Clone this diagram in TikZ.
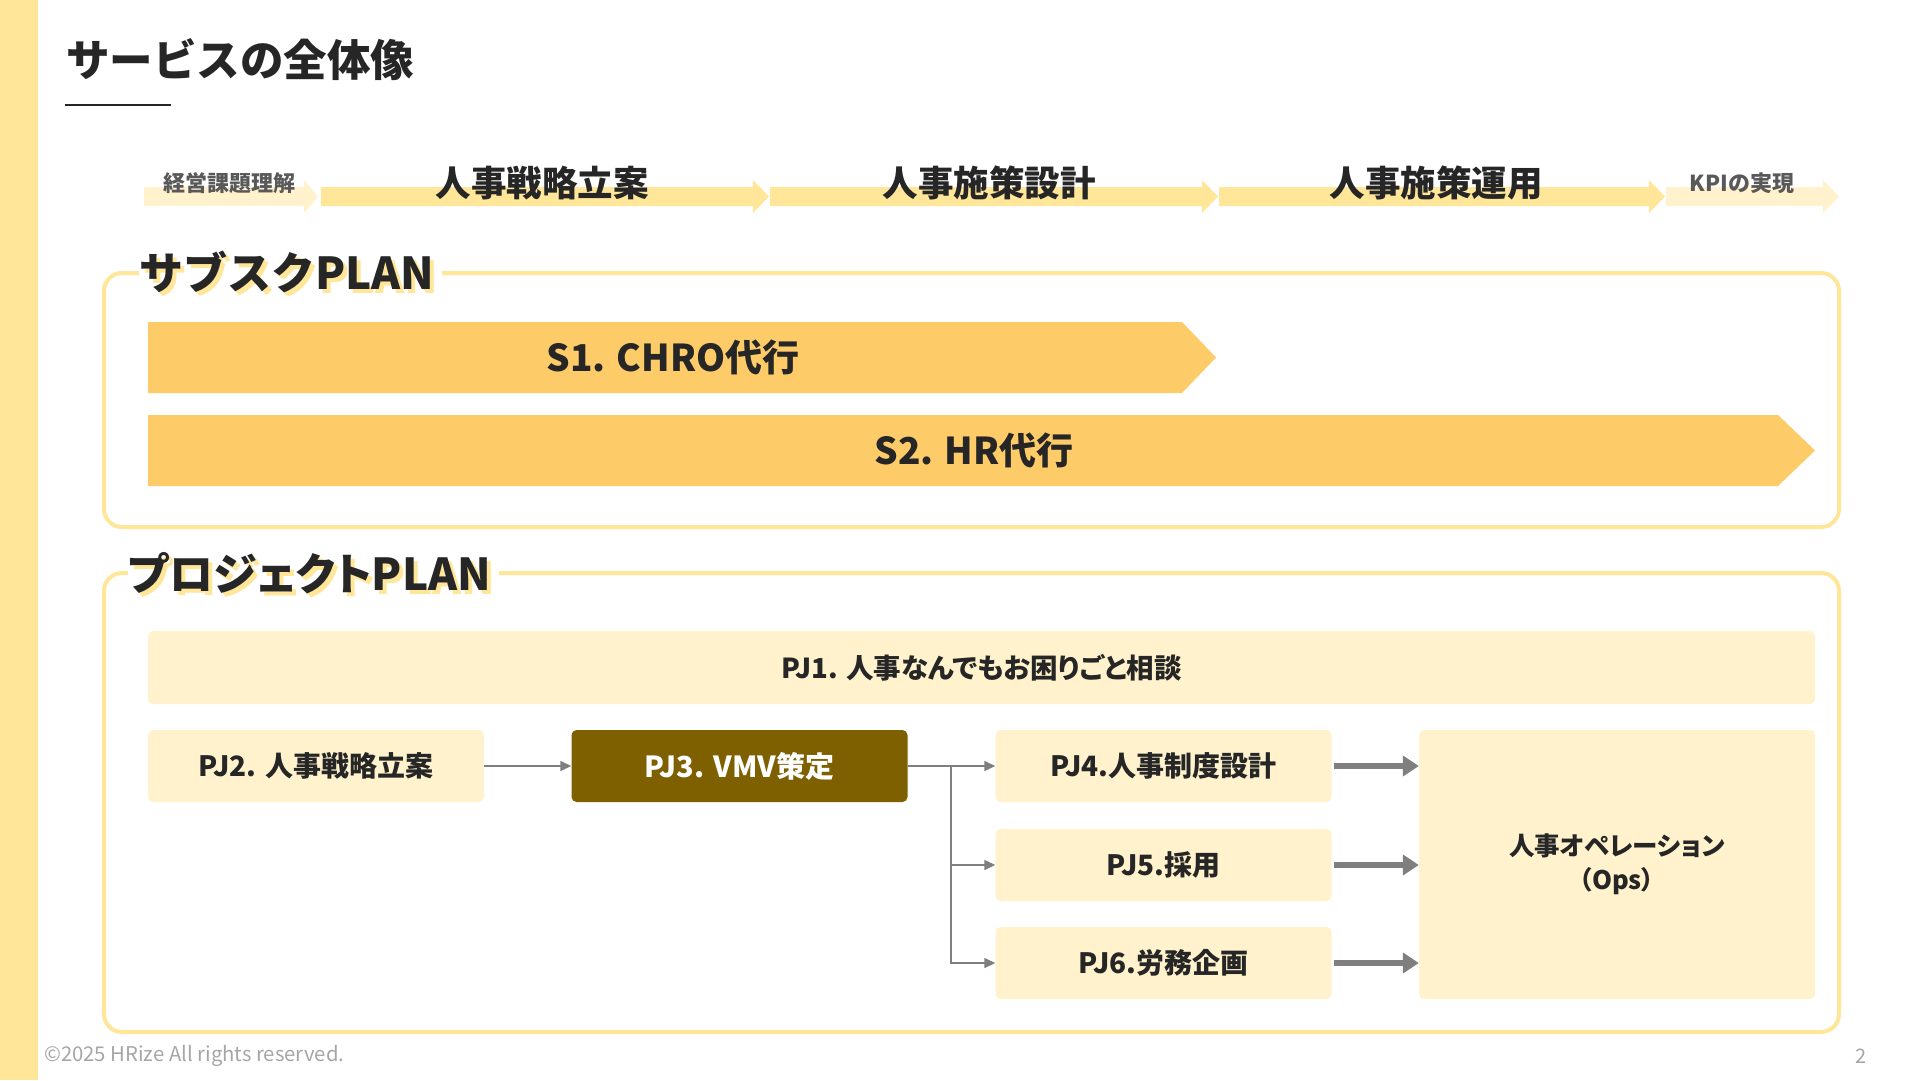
\documentclass[tikz,border=0pt]{standalone}
\usepackage{fontspec}
\setmainfont{Noto Sans CJK JP}
\newfontfamily\jpprop{Noto Sans CJK JP}[RawFeature=+palt]
\usetikzlibrary{arrows.meta}
\definecolor{stripe}{HTML}{FFE699}
\definecolor{lightband}{HTML}{FFF2CC}
\definecolor{band}{HTML}{FFE699}
\definecolor{sarrow}{HTML}{FECB69}
\definecolor{pjfill}{HTML}{FFF2CC}
\definecolor{pjdark}{HTML}{7F6000}
\definecolor{txt}{HTML}{262626}
\definecolor{subtxt}{HTML}{595959}
\definecolor{conn}{HTML}{7F7F7F}
\definecolor{footgray}{HTML}{A6A6A6}
\tikzset{
  frame/.style={draw=band, line width=4pt, rounded corners=18pt},
  pjbox/.style={fill=pjfill, rounded corners=5pt, inner sep=0pt, text=txt,
    font=\fontsize{28}{32}\selectfont\bfseries, align=center},
  darkbox/.style={pjbox, fill=pjdark, text=white},
  thinarrow/.style={draw=conn, line width=1.5pt, -{Triangle[length=11pt,width=10pt]}},
  thinline/.style={draw=conn, line width=1.5pt},
  thickarrow/.style={draw=conn, line width=6pt, -{Triangle[length=16pt,width=20pt]}, shorten <=2pt},
  ptitle/.style={anchor=west, inner sep=0pt, text=txt, font=\fontsize{44}{50}\selectfont\bfseries},
  pshadow/.style={anchor=west, inner xsep=4pt, inner ysep=0pt, fill=white, text=band, font=\fontsize{44}{50}\selectfont\bfseries},
  proctext/.style={text=txt, font=\fontsize{35.5}{40}\selectfont\bfseries},
  procsmall/.style={text=subtxt, font=\fontsize{22}{24}\selectfont\bfseries},
  stext/.style={text=txt, font=\fontsize{37}{42}\selectfont\bfseries}
}
\begin{document}
\begin{tikzpicture}[x=1pt,y=-1pt]
\useasboundingbox (0,0) rectangle (1920,1080);
\fill[white] (0,0) rectangle (1920,1080);
\fill[stripe] (0,0) rectangle (38,1080);

% title
\node[anchor=west, inner sep=0pt, text=txt, font=\fontsize{43.5}{50}\selectfont\bfseries] (title) at (66,60) {サービスの全体像};
\coordinate (ulA) at (65,105);
\coordinate (ulB) at (171,105);
\draw[txt, line width=2pt] (ulA) -- (ulB);

% process row
\fill[lightband] (144,187) -- (304,187) -- (304,180) -- (318,196.5) -- (304,213) -- (304,206) -- (144,206) -- cycle;
\fill[band] (321,187) -- (753,187) -- (753,180) -- (769,196.5) -- (753,213) -- (753,206) -- (321,206) -- cycle;
\fill[band] (770,187) -- (1202,187) -- (1202,180) -- (1218,196.5) -- (1202,213) -- (1202,206) -- (770,206) -- cycle;
\fill[band] (1219,187) -- (1649,187) -- (1649,180) -- (1665,196.5) -- (1649,213) -- (1649,206) -- (1219,206) -- cycle;
\fill[lightband] (1666,187) -- (1823,187) -- (1823,180) -- (1839,196.5) -- (1823,213) -- (1823,206) -- (1666,206) -- cycle;
\node[procsmall] (p1) at (229,183) {経営課題理解};
\node[proctext] (p2) at (542,183) {人事戦略立案};
\node[proctext] (p3) at (989,183) {人事施策設計};
\node[proctext] (p4) at (1436,183) {人事施策運用};
\node[procsmall] (p5) at (1742,183) {KPIの実現};

% subscription plan
\draw[frame] (104,273) rectangle (1839,527);
\node[pshadow] (subsh) at (139,276) {サブスクPLAN};
\node[ptitle] (subt) at (139,272) {サブスクPLAN};
\fill[sarrow] (148,322) -- (1182,322) -- (1216,357.5) -- (1182,393) -- (148,393) -- cycle;
\node[stext] (s1) at (673,357) {S1. CHRO代行};
\fill[sarrow] (148,415) -- (1778,415) -- (1815,450.5) -- (1778,486) -- (148,486) -- cycle;
\node[stext] (s2) at (974,450) {S2. HR代行};

% project plan
\draw[frame] (104,573) rectangle (1839,1032);
\node[pshadow, font=\fontsize{44}{50}\selectfont\bfseries\jpprop] (prjsh) at (128,577) {プロジェクトPLAN};
\node[ptitle, font=\fontsize{44}{50}\selectfont\bfseries\jpprop] (prjt) at (128,573) {プロジェクトPLAN};

\node[pjbox, minimum width=1667pt, minimum height=73pt, font=\fontsize{27.5}{32}\selectfont\bfseries\jpprop] (pj1) at (981.5,667.5) {PJ1. 人事なんでもお困りごと相談};
\node[pjbox, minimum width=336pt, minimum height=72pt] (pj2) at (316,766) {PJ2. 人事戦略立案};
\node[darkbox, minimum width=336pt, minimum height=72pt, font=\fontsize{29}{32}\selectfont\bfseries] (pj3) at (739.5,766) {PJ3. VMV策定};
\node[pjbox, minimum width=336pt, minimum height=72pt] (pj4) at (1163.5,766) {PJ4.人事制度設計};
\node[pjbox, minimum width=336pt, minimum height=72pt] (pj5) at (1163.5,865) {PJ5.採用};
\node[pjbox, minimum width=336pt, minimum height=72pt] (pj6) at (1163.5,963) {PJ6.労務企画};
\node[pjbox, minimum width=396pt, minimum height=269pt, font=\fontsize{25.5}{34}\selectfont\bfseries\jpprop] (ops) at (1617,864.5) {人事オペレーション\\（Ops）};

\draw[thinarrow] (pj2.east) -- (pj3.west);
\coordinate (br) at (951,766);
\draw[thinline] (pj3.east) -- (br);
\draw[thinarrow] (br) -- (pj4.west);
\draw[thinarrow] (br) |- (pj5.west);
\draw[thinarrow] (br) |- (pj6.west);
\draw[thickarrow] (pj4.east) -- (pj4.east -| ops.west);
\draw[thickarrow] (pj5.east) -- (pj5.east -| ops.west);
\draw[thickarrow] (pj6.east) -- (pj6.east -| ops.west);

% footer
\node[anchor=west, inner sep=0pt, text=footgray, font=\fontsize{20.3}{22}\selectfont] (copy) at (44,1056) {©2025 HRize All rights reserved.};
\node[inner sep=0pt, text=footgray, font=\fontsize{20}{22}\selectfont] (pg) at (1861,1056) {2};
\end{tikzpicture}
\end{document}
